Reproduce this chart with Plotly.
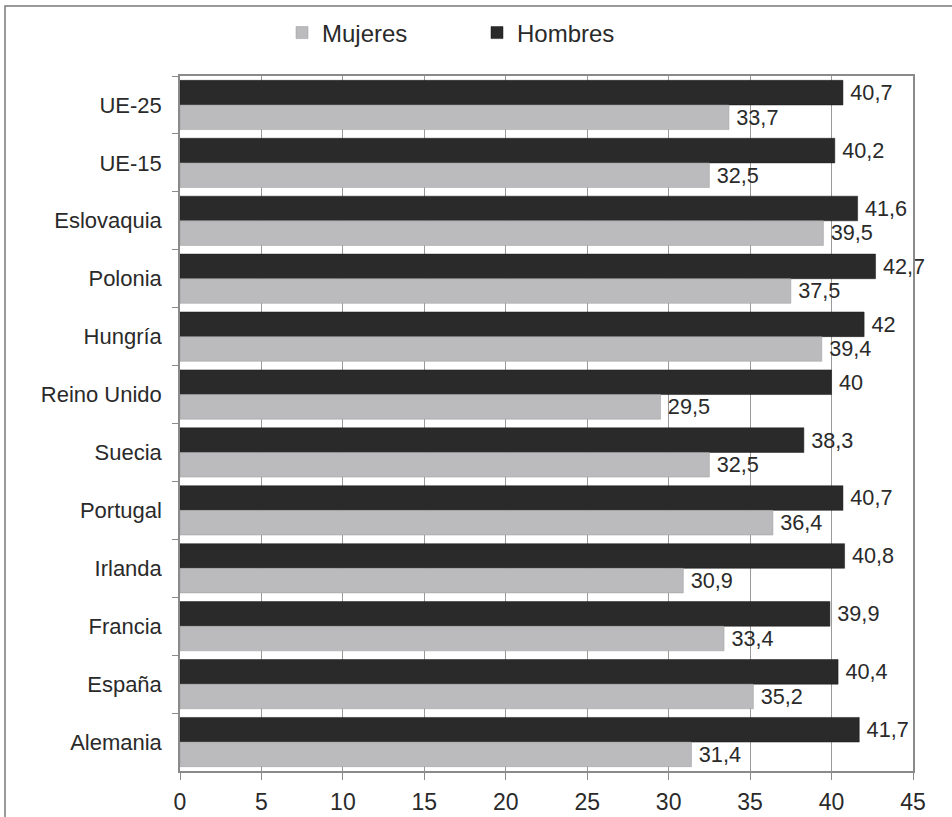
import plotly.graph_objects as go

categories = ["UE-25", "UE-15", "Eslovaquia", "Polonia", "Hungría", "Reino Unido",
              "Suecia", "Portugal", "Irlanda", "Francia", "España", "Alemania"]
hombres = [40.7, 40.2, 41.6, 42.7, 42, 40, 38.3, 40.7, 40.8, 39.9, 40.4, 41.7]
mujeres = [33.7, 32.5, 39.5, 37.5, 39.4, 29.5, 32.5, 36.4, 30.9, 33.4, 35.2, 31.4]
x_ticks = [0, 5, 10, 15, 20, 25, 30, 35, 40, 45]


def fmt(v):
    return "\u2009" + f"{v:g}".replace(".", ",")


FONT = "Liberation Sans, Arial, sans-serif"
W, H = 952, 817
L, R, T, B = 180, 913, 76, 771
ML, MR, MT, MB = L, W - R, T, H - B
PW, PH = R - L, B - T


def px_x(p):
    return (p - L) / PW


def px_y(p):
    return 1 - (p - T) / PH


TXT = "#2a2a2a"
fig = go.Figure()
fig.add_trace(go.Bar(
    y=categories, x=hombres, name="Hombres", orientation="h",
    marker=dict(color="#2a2a2a", line=dict(color="#1a1a1a", width=0.5)),
    text=[fmt(v) for v in hombres], textposition="outside",
    textfont=dict(family=FONT, size=22, color=TXT),
    cliponaxis=False,
))
fig.add_trace(go.Bar(
    y=categories, x=mujeres, name="Mujeres", orientation="h",
    marker=dict(color="#bbbbbd", line=dict(color="#9a9a9c", width=0.5)),
    text=[fmt(v) for v in mujeres], textposition="outside",
    textfont=dict(family=FONT, size=22, color=TXT),
    cliponaxis=False,
))

fig.update_layout(
    width=W, height=H,
    margin=dict(l=ML, r=MR, t=MT, b=MB, autoexpand=False),
    paper_bgcolor="white", plot_bgcolor="white",
    barmode="group", bargap=0.15, bargroupgap=0,
    font=dict(family=FONT, size=22, color=TXT),
    showlegend=True,
    legend=dict(orientation="h", traceorder="reversed",
                x=px_x(282), xanchor="left", y=px_y(33), yanchor="middle",
                font=dict(family=FONT, size=24, color=TXT),
                itemwidth=30, entrywidth=150, bgcolor="rgba(0,0,0,0)"),
    xaxis=dict(range=[0, 45], tickvals=x_ticks, ticktext=[str(t) for t in x_ticks],
               automargin=False,
               showgrid=True, gridcolor="#9a9a9a", gridwidth=1.2,
               zeroline=False, showline=True, linecolor="#8a8a8a", linewidth=1.5,
               mirror=True, ticks="outside", ticklen=7, tickcolor="#8a8a8a",
               ticklabelstandoff=3,
               tickfont=dict(family=FONT, size=23, color=TXT)),
    yaxis=dict(autorange="reversed", showgrid=False, zeroline=False,
               automargin=False,
               showline=True, linecolor="#8a8a8a", linewidth=1.5, mirror=True,
               ticks="outside", ticklen=6, tickcolor="#8a8a8a", tickson="boundaries",
               ticklabelstandoff=12,
               tickfont=dict(family=FONT, size=22, color=TXT)),
    shapes=[dict(type="rect", xref="paper", yref="paper",
                 x0=px_x(5), x1=px_x(990), y0=px_y(850), y1=px_y(6),
                 line=dict(color="#7a7a7a", width=1.5), layer="below")],
)

fig.write_html("out.html",
               config={"displayModeBar": False},
               post_script="document.body.style.margin='0';"
                           "document.body.style.overflow='hidden';")
